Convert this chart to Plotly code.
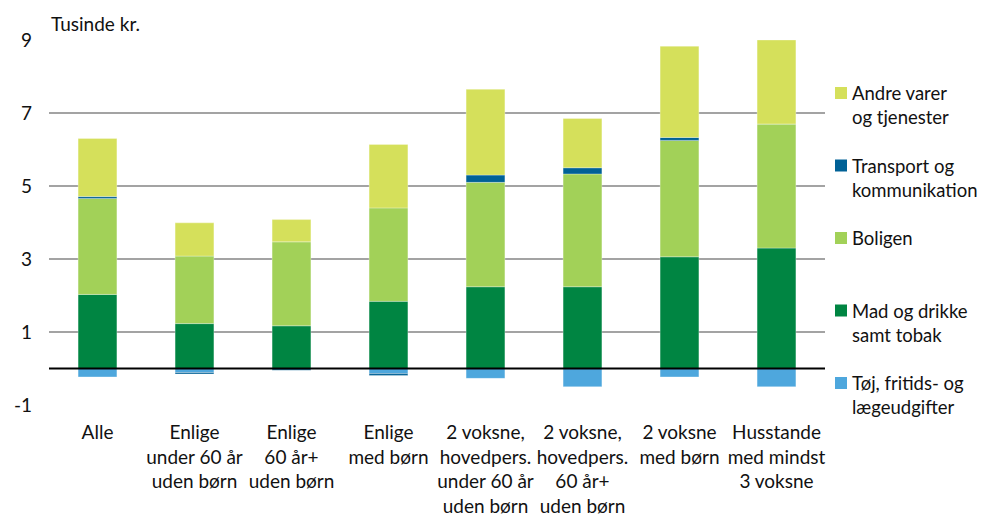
import plotly.graph_objects as go

categories = [
    "Alle",
    "Enlige<br>under 60 år<br>uden børn",
    "Enlige<br>60 år+<br>uden børn",
    "Enlige<br>med børn",
    "2 voksne,<br>hovedpers.<br>under 60 år<br>uden børn",
    "2 voksne,<br>hovedpers.<br>60 år+<br>uden børn",
    "2 voksne<br>med børn",
    "Husstande<br>med mindst<br>3 voksne",
]

toej = [-0.23, -0.11, -0.01, -0.14, -0.27, -0.50, -0.23, -0.50]
mad = [2.03, 1.23, 1.17, 1.84, 2.24, 2.24, 3.06, 3.30]
bolig = [2.63, 1.85, 2.30, 2.56, 2.86, 3.09, 3.19, 3.40]
transport = [0.05, -0.04, -0.04, -0.05, 0.20, 0.17, 0.08, 0.0]
andre = [1.59, 0.91, 0.61, 1.74, 2.35, 1.35, 2.50, 2.30]

y_ticks = [-1, 1, 3, 5, 7, 9]
y_tick_text = ["-1", "1", "3", "5", "7", "9"]
y_unit_label = "Tusinde kr."

series = [
    ("Tøj, fritids- og<br>lægeudgifter", toej, "#4ea7dd"),
    ("Mad og drikke<br>samt tobak", mad, "#008542"),
    ("Boligen", bolig, "#a2d158"),
    ("Transport og<br>kommunikation", transport, "#006196"),
    ("Andre varer<br>og tjenester", andre, "#d5e05b"),
]

FONT = "Lato"
FS = 19
TXT = "#111111"
# page body has an 8px default margin; figure is sized to fill the rest
OFF = 8
W, H = 990 - OFF, 517 - OFF
ML, MR, MT, MB = 49 - OFF, 165, 40 - OFF, 112
PW = W - ML - MR
PH = H - MT - MB

fig = go.Figure()
for name, vals, color in series:
    fig.add_trace(go.Bar(
        x=categories, y=vals, name=name, width=0.4,
        marker=dict(color=color, line=dict(color="rgba(255,255,255,0.5)", width=0.6)),
        showlegend=False,
    ))

# manual legend (top to bottom: reverse of stacking order)
legend_items = list(reversed(series))
top_px, step_px = 93 - 40, 72.5   # relative to plot top
for i, (name, vals, color) in enumerate(legend_items):
    cy = top_px + step_px * i
    yc = 1 - cy / PH
    fig.add_shape(type="rect", xref="paper", yref="paper",
                  x0=(835 - 49) / PW, x1=(847 - 49) / PW,
                  y0=yc - 6 / PH, y1=yc + 6 / PH,
                  fillcolor=color, line=dict(width=0))
    fig.add_annotation(xref="paper", yref="paper", x=(850 - 49) / PW,
                       y=1 - (cy - 13) / PH,
                       xanchor="left", yanchor="top", align="left",
                       text=name, showarrow=False,
                       font=dict(family=FONT, size=18.5, color=TXT))

fig.add_annotation(xref="paper", yref="paper", x=0, y=1, xanchor="left",
                   yanchor="bottom", yshift=3, text=y_unit_label, showarrow=False,
                   font=dict(family=FONT, size=FS, color=TXT))

fig.add_shape(type="line", xref="paper", yref="y", x0=0, x1=1, y0=0, y1=0,
              line=dict(color="black", width=2.2), layer="above")

fig.update_layout(
    width=W, height=H,
    margin=dict(l=ML, r=MR, t=MT, b=MB, autoexpand=False),
    barmode="relative",
    plot_bgcolor="white", paper_bgcolor="white",
    font=dict(family=FONT, size=FS, color=TXT),
    xaxis=dict(showgrid=False, showline=False, ticks="", ticklabelstandoff=14,
               automargin=False,
               tickfont=dict(family=FONT, size=FS, color=TXT)),
    yaxis=dict(range=[-1, 9], tickvals=y_ticks, ticktext=y_tick_text, showgrid=True,
               gridcolor="#a3a3a3", gridwidth=1.5, zeroline=False, automargin=False,
               showline=False, ticks="", ticklabelstandoff=16,
               tickfont=dict(family=FONT, size=FS, color=TXT)),
)

fig.write_html("out.html")
